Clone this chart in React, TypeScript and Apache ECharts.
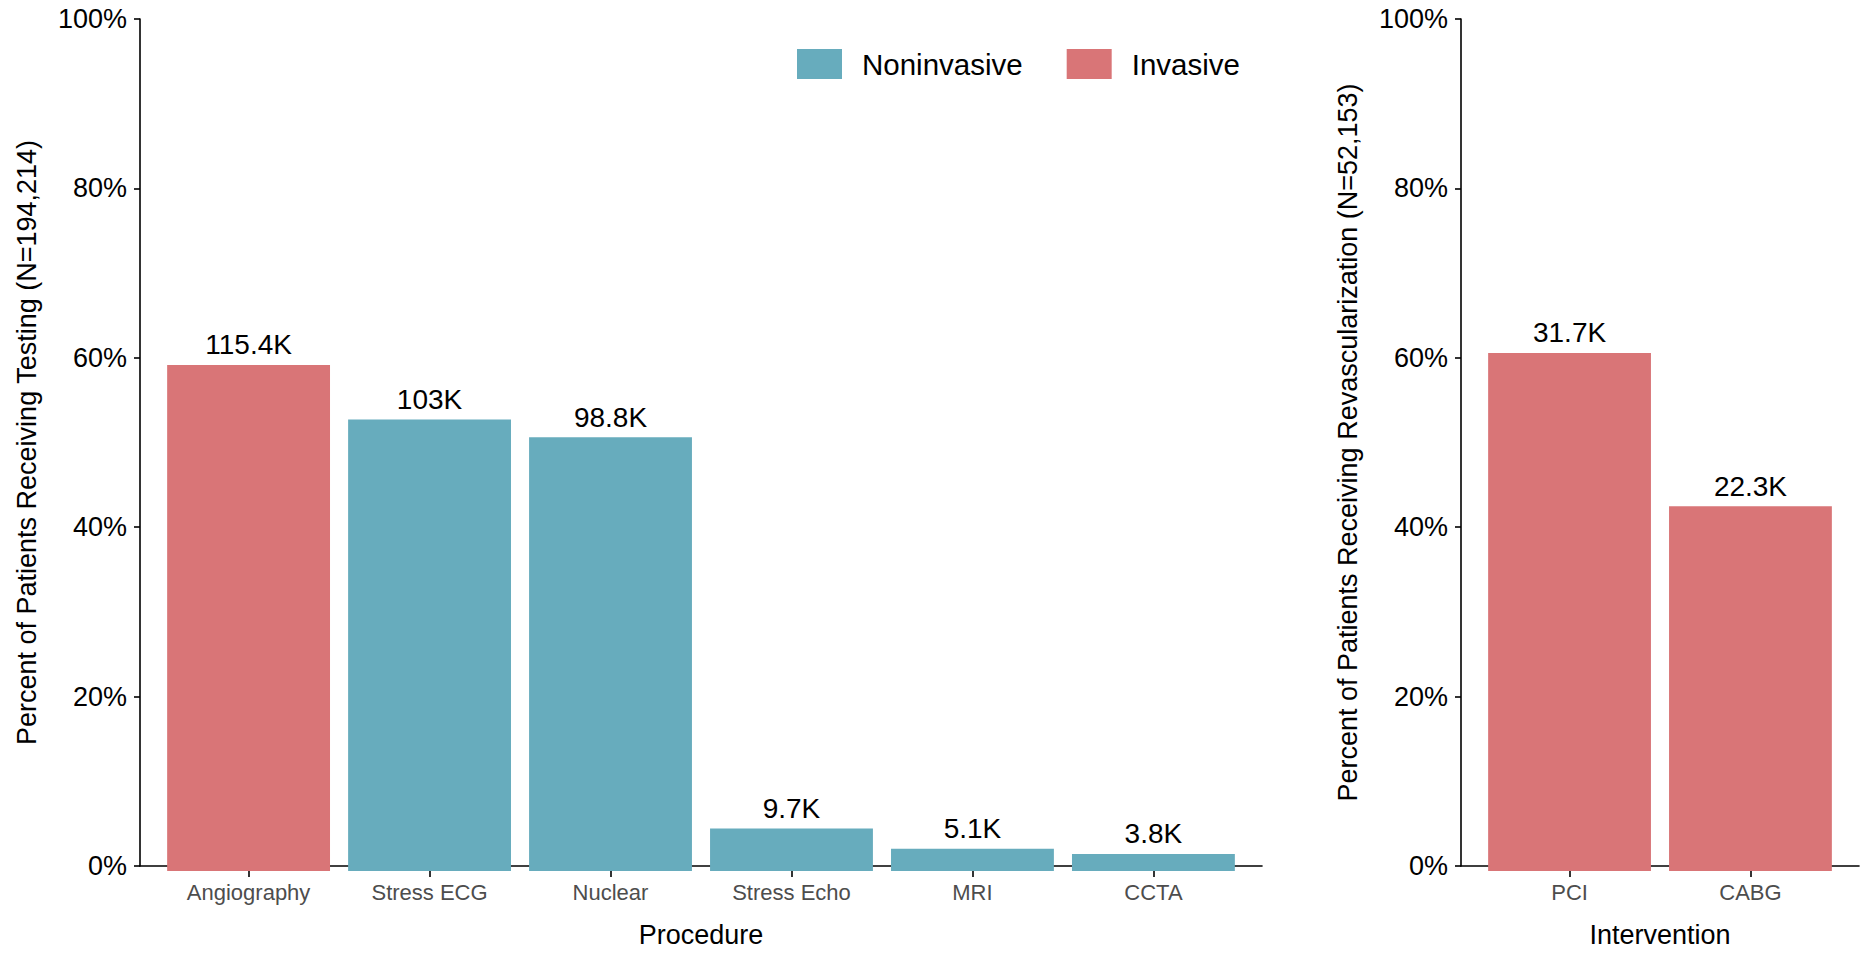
import React, { useEffect, useRef } from "react";
import * as echarts from "echarts";

const procedures = ["Angiography", "Stress ECG", "Nuclear", "Stress Echo", "MRI", "CCTA"];
const procedureType = ["Invasive", "Noninvasive", "Noninvasive", "Noninvasive", "Noninvasive", "Noninvasive"];
const procedurePct = [59.4, 53.0, 50.9, 5.0, 2.6, 2.0];
const procedureLabels = ["115.4K", "103K", "98.8K", "9.7K", "5.1K", "3.8K"];

const interventions = ["PCI", "CABG"];
const interventionPct = [60.8, 42.8];
const interventionLabels = ["31.7K", "22.3K"];

const legendNames = ["Noninvasive", "Invasive"];

const RED = "#D97577";
const TEAL = "#67ACBD";
const FONT = "'Liberation Sans', Arial, Helvetica, sans-serif";
const AXIS_W = 1.6;

function App() {
  const ref = useRef<HTMLDivElement>(null);

  useEffect(() => {
    if (!ref.current) return;
    const chart = echarts.init(ref.current, undefined, { renderer: "svg" });

    const catAxis = (grid: number, data: string[]) => ({
      type: "category",
      gridIndex: grid,
      data,
      boundaryGap: true,
      axisLine: { show: false },
      axisTick: { show: true, alignWithLabel: true, length: 6, lineStyle: { color: "#000", width: AXIS_W } },
      axisLabel: { color: "#4D4D4D", fontSize: 22, fontFamily: FONT, margin: 10 },
      splitLine: { show: false },
    });
    const frameX = (grid: number, name: string) => ({
      type: "value",
      gridIndex: grid,
      min: 0,
      max: 1,
      name,
      nameLocation: "middle",
      nameGap: 55,
      nameTextStyle: { color: "#000", fontSize: 27, fontFamily: FONT },
      axisLine: { show: true, lineStyle: { color: "#000", width: AXIS_W } },
      axisTick: { show: false },
      axisLabel: { show: false },
      splitLine: { show: false },
    });
    const hiddenY = (grid: number) => ({
      type: "value",
      gridIndex: grid,
      min: 0,
      max: 100,
      show: false,
      splitLine: { show: false },
    });
    const frameY = (grid: number, name: string) => ({
      type: "value",
      gridIndex: grid,
      min: 0,
      max: 100,
      interval: 20,
      name,
      nameLocation: "middle",
      nameGap: 100,
      nameTextStyle: { color: "#000", fontSize: 27, fontFamily: FONT },
      axisLine: { show: true, lineStyle: { color: "#000", width: AXIS_W } },
      axisTick: { show: true, length: 6, lineStyle: { color: "#000", width: AXIS_W } },
      axisLabel: { color: "#000", fontSize: 27, fontFamily: FONT, margin: 13, formatter: "{value}%" },
      splitLine: { show: false },
    });

    const labelCfg = (labels: string[]) => ({
      show: true,
      position: "top",
      distance: 6,
      color: "#000",
      fontSize: 28,
      fontFamily: FONT,
      formatter: (p: any) => labels[p.dataIndex],
    });

    const leftU = 1122 / 6.2;
    const rightU = 398 / 2.2;

    chart.setOption({
      animation: false,
      backgroundColor: "#fff",
      textStyle: { fontFamily: FONT },
      legend: {
        data: legendNames.map((n) => ({ name: n, itemStyle: { color: n === "Invasive" ? RED : TEAL } })),
        left: 797,
        top: 49,
        padding: 0,
        icon: "rect",
        itemWidth: 45,
        itemHeight: 30,
        itemGap: 44,
        selectedMode: false,
        textStyle: { color: "#000", fontSize: 29.5, fontFamily: FONT, padding: [0, 0, 5, 15] },
      },
      grid: [
        { left: 140 + leftU * 0.1, width: leftU * 6, top: 19, bottom: 82 },
        { left: 140, width: 1122, top: 19, bottom: 82 },
        { left: 1461 + rightU * 0.1, width: rightU * 2, top: 19, bottom: 82 },
        { left: 1461, width: 398, top: 19, bottom: 82 },
      ],
      xAxis: [
        catAxis(0, procedures),
        frameX(1, "Procedure"),
        catAxis(2, interventions),
        frameX(3, "Intervention"),
      ],
      yAxis: [
        hiddenY(0),
        frameY(1, "Percent of Patients Receiving Testing (N=194,214)"),
        hiddenY(2),
        frameY(3, "Percent of Patients Receiving Revascularization (N=52,153)"),
      ],
      series: [
        {
          name: "Invasive",
          type: "bar",
          xAxisIndex: 0,
          yAxisIndex: 0,
          stack: "proc",
          barWidth: "90%",
          itemStyle: { color: RED },
          label: labelCfg(procedureLabels),
          data: procedurePct.map((v, i) => (procedureType[i] === "Invasive" ? v : "-")),
        },
        {
          name: "Noninvasive",
          type: "bar",
          xAxisIndex: 0,
          yAxisIndex: 0,
          stack: "proc",
          barWidth: "90%",
          itemStyle: { color: TEAL },
          label: labelCfg(procedureLabels),
          data: procedurePct.map((v, i) => (procedureType[i] === "Noninvasive" ? v : "-")),
        },
        {
          name: "Invasive",
          type: "bar",
          xAxisIndex: 2,
          yAxisIndex: 2,
          barWidth: "90%",
          itemStyle: { color: RED },
          label: labelCfg(interventionLabels),
          data: interventionPct,
        },
      ],
    });

    return () => chart.dispose();
  }, []);

  return (
    <div
      ref={ref}
      style={{ position: "absolute", left: 0, top: 0, width: 1867, height: 953, background: "#fff" }}
    />
  );
}

export default App;
